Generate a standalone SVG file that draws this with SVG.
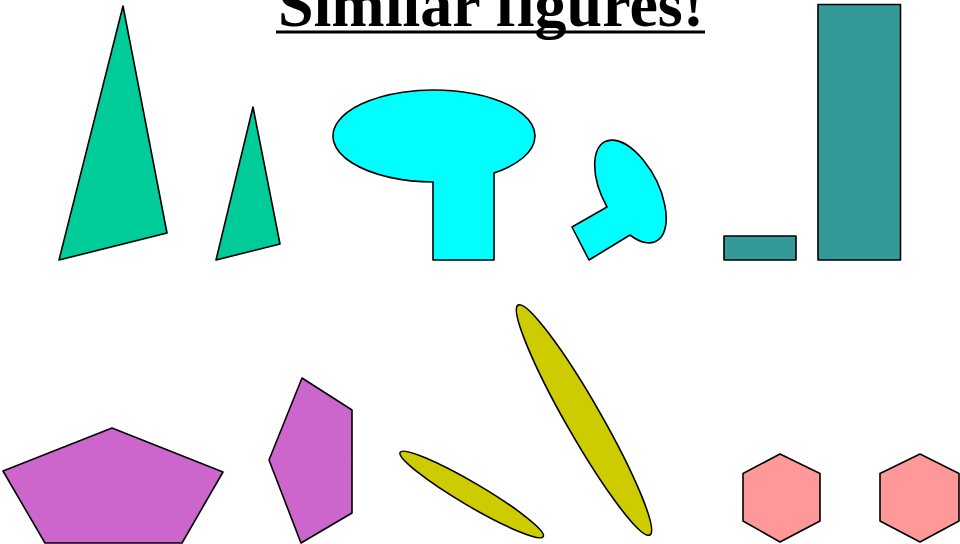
<svg xmlns="http://www.w3.org/2000/svg" width="960" height="544" viewBox="0 0 960 544">
<style>
.s{stroke:#000;stroke-width:1.6;stroke-linejoin:round}
.tri{fill:#00CC99}
.mush{fill:#00FFFF}
.rect{fill:#339999}
.pent{fill:#CC66CC}
.ell{fill:#CCCC00}
.hex{fill:#FF9999}
.title{font-family:"Liberation Serif","Times New Roman",serif;font-weight:bold;font-size:64px;fill:#000}
</style>
<rect width="960" height="544" fill="#fff"/>
<g id="title">
<text class="title" x="491" y="26" text-anchor="middle">Similar figures!</text>
<rect x="276" y="30.5" width="429" height="3" fill="#000"/>
</g>
<g id="triangle-large"><polygon class="s tri" points="123,6 59,260 167,233"/></g>
<g id="triangle-small"><polygon class="s tri" points="253,107 216,260 280,244"/></g>
<g id="mushroom-large"><path class="s mush" d="M433,182 L433,260 L494,260 L494,173 A101,46 0 1 0 433,182 Z"/></g>
<g id="mushroom-small"><path class="s mush" d="M572,227 L589,260 L630,235 A56,28 62.7 1 0 607,207 Z"/></g>
<g id="rect-small"><rect class="s rect" x="724" y="236" width="72" height="24"/></g>
<g id="rect-large"><rect class="s rect" x="818" y="4.5" width="82.5" height="255.5"/></g>
<g id="pentagon-large"><polygon class="s pent" points="112,428 223,472 182,543 45,543 3,471"/></g>
<g id="pentagon-small"><polygon class="s pent" points="302,378 352,410 352,513 301,543 269,460"/></g>
<g id="ellipse-small"><ellipse class="s ell" cx="471.7" cy="494.5" rx="83" ry="11.5" transform="rotate(30.5 471.7 494.5)"/></g>
<g id="ellipse-large"><ellipse class="s ell" cx="584" cy="420" rx="132.5" ry="17.5" transform="rotate(60.2 584 420)"/></g>
<g id="hexagon-1"><polygon class="s hex" points="780,454 820,473.5 820,521 780,542 743,521 743,473.5"/></g>
<g id="hexagon-2"><polygon class="s hex" points="920,454 959,473.5 959,521 920,542 880,521 880,473.5"/></g>
</svg>
